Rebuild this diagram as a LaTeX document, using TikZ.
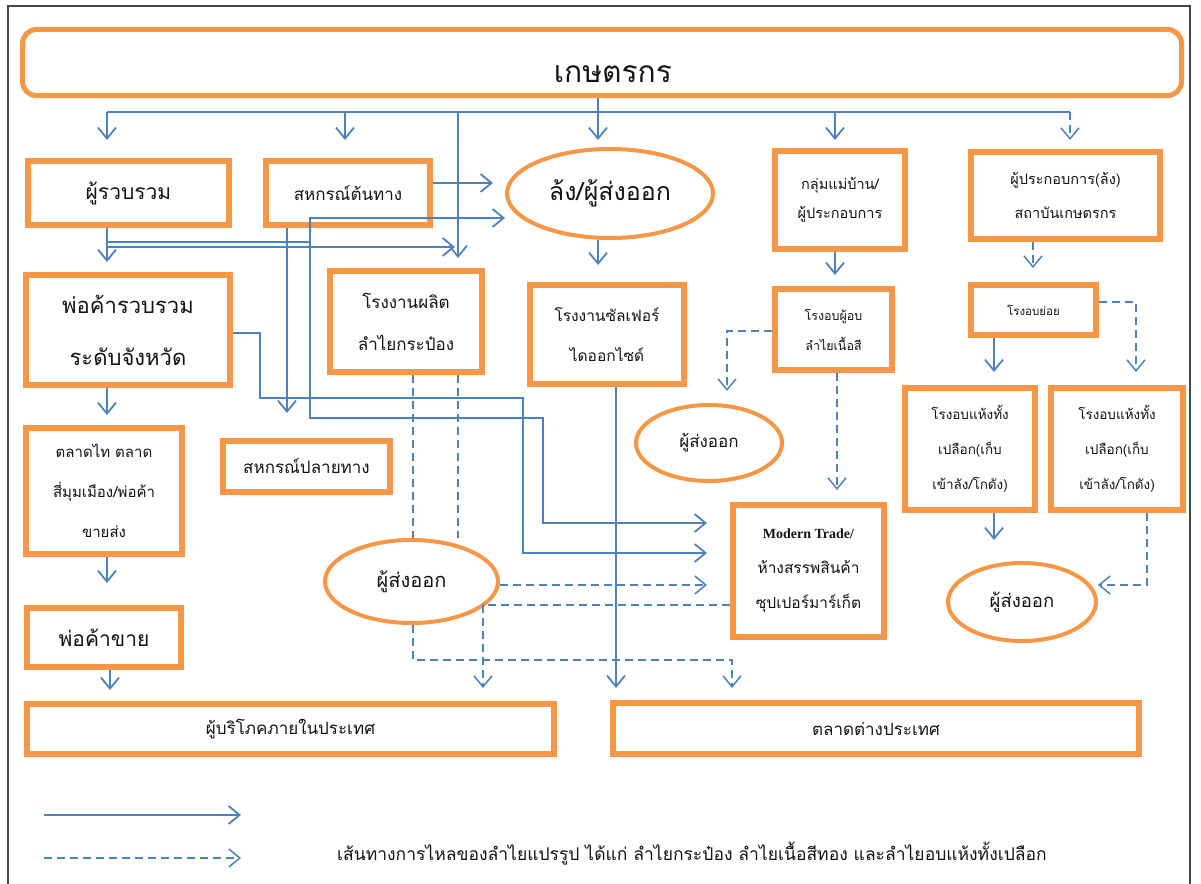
\documentclass[tikz,border=0pt]{standalone}
\usepackage{fontspec}
\setmainfont{Liberation Serif}
\newfontfamily\thai[Script=Thai]{Loma}
\newfontfamily\latinb{Liberation Serif}
\usetikzlibrary{arrows.meta,shapes.geometric,calc}
\definecolor{orng}{RGB}{247,150,70}
\definecolor{blu}{RGB}{79,129,189}
\definecolor{frm}{RGB}{70,70,70}
\definecolor{txt}{RGB}{20,20,20}
\newcommand\tsize[2]{\fontsize{#1}{#2}\selectfont}
\begin{document}
\begin{tikzpicture}[x=1pt,y=-1pt,
  obox/.style={draw=orng, line width=6pt, fill=white, rectangle, inner sep=0pt, align=center, text=txt},
  oell/.style={draw=orng, line width=4pt, fill=white, ellipse, inner sep=0pt, align=center, text=txt},
  ln/.style={draw=blu, line width=1.8pt},
  arr/.style={draw=blu, line width=1.8pt, -{Straight Barb[length=11pt,width=18pt]}},
  dsh/.style={draw=blu, line width=1.5pt, dash pattern=on 8pt off 5pt},
  darr/.style={dsh, -{Straight Barb[length=11pt,width=18pt]}}]
\fill[white] (0,0) rectangle (1201,883);
\useasboundingbox (0,0) rectangle (1201,883);
\clip (0,0) rectangle (1201,883);
\draw[frm, line width=1.2pt] (8,6) rectangle (1190,900);

% nodes
\node[obox, line width=5pt, rounded corners=14pt, minimum width=1159pt, minimum height=66pt] (top) at (602,62.5) {};
\node[text=txt, font=\thai\tsize{30}{36}] (toptxt) at (613,74) {เกษตรกร};

\node[obox, minimum width=201pt, minimum height=64pt, font=\thai\tsize{21}{25}] (A) at (128.5,193) {ผู้รวบรวม};
\node[obox, minimum width=164pt, minimum height=64pt, font=\thai\tsize{17}{20}] (B) at (348,193) {สหกรณ์ต้นทาง};
\node[oell, minimum width=206pt, minimum height=89pt, font=\thai\tsize{25}{30}] (C) at (610,193.5) {ล้ง/ผู้ส่งออก};
\node[obox, minimum width=130pt, minimum height=98pt, font=\thai\tsize{14.5}{29}] (D) at (840,200) {กลุ่มแม่บ้าน/\\ผู้ประกอบการ};
\node[obox, minimum width=189pt, minimum height=87pt, font=\thai\tsize{14.5}{34}] (E) at (1065.5,195.5) {ผู้ประกอบการ(ล้ง)\\สถาบันเกษตรกร};

\node[obox, minimum width=204pt, minimum height=110pt, font=\thai\tsize{22}{52}] (F) at (128,330) {พ่อค้ารวบรวม\\ระดับจังหวัด};
\node[obox, minimum width=152pt, minimum height=101pt, font=\thai\tsize{17}{42}] (G) at (406,321.5) {โรงงานผลิต\\ลำไยกระป๋อง};
\node[obox, minimum width=154pt, minimum height=99pt, font=\thai\tsize{15.5}{40}] (H) at (607,334.5) {โรงงานซัลเฟอร์\\ไดออกไซด์};
\node[obox, minimum width=117pt, minimum height=81pt, font=\thai\tsize{12.5}{30}] (I) at (833.5,329.5) {โรงอบผู้อบ\\ลำไยเนื้อสี};
\node[obox, minimum width=125pt, minimum height=50pt, font=\thai\tsize{11.5}{14}] (J) at (1033.5,310) {โรงอบย่อย};

\node[obox, minimum width=156pt, minimum height=126pt, font=\thai\tsize{15}{40}] (L) at (104,491) {ตลาดไท ตลาด\\สี่มุมเมือง/พ่อค้า\\ขายส่ง};
\node[obox, minimum width=167pt, minimum height=51pt, font=\thai\tsize{17}{20}] (M) at (306.5,466.5) {สหกรณ์ปลายทาง};
\node[oell, minimum width=146pt, minimum height=76pt, font=\thai\tsize{17}{20}] (N) at (709,443) {ผู้ส่งออก};
\node[obox, minimum width=130pt, minimum height=122pt, font=\thai\tsize{13.5}{35}] (O) at (970,449) {โรงอบแห้งทั้ง\\เปลือก(เก็บ\\เข้าลัง/โกดัง)};
\node[obox, minimum width=132pt, minimum height=122pt, font=\thai\tsize{13.5}{35}] (P) at (1117,449) {โรงอบแห้งทั้ง\\เปลือก(เก็บ\\เข้าลัง/โกดัง)};

\node[oell, minimum width=173pt, minimum height=83pt, font=\thai\tsize{20}{24}] (K) at (411.5,581.5) {ผู้ส่งออก};
\node[obox, minimum width=151pt, minimum height=132pt, font=\thai\tsize{15.5}{35}] (Q) at (808.5,571) {{\latinb\bfseries\tsize{14}{35}Modern Trade/}\\ห้างสรรพสินค้า\\ซุปเปอร์มาร์เก็ต};
\node[oell, minimum width=148pt, minimum height=78pt, font=\thai\tsize{18.5}{22}] (R) at (1022,602) {ผู้ส่งออก};
\node[obox, minimum width=154pt, minimum height=59pt, font=\thai\tsize{21}{25}] (S) at (104,637.5) {พ่อค้าขาย};

\node[obox, minimum width=527pt, minimum height=50pt, font=\thai\tsize{17}{20}] (T) at (290.5,729) {ผู้บริโภคภายในประเทศ};
\node[obox, minimum width=526pt, minimum height=51pt, font=\thai\tsize{17}{20}] (U) at (876,728.5) {ตลาดต่างประเทศ};

% bus from farmers
\coordinate (bA) at (107,112);
\coordinate (bB) at (345,112);
\coordinate (bC) at (598,112);
\coordinate (bG) at (458,112);
\coordinate (bD) at (835,112);
\coordinate (bE) at (1070,112);
\draw[ln] (top.south -| bC) -- (bC);
\draw[ln] (bA) -- (bE);
\draw[arr, shorten >=18pt] (bA) -- (A.north -| bA);
\draw[arr, shorten >=18pt] (bB) -- (B.north -| bB);
\draw[arr, shorten >=7pt] (bC) -- (C.north -| bC);
\draw[arr, shorten >=8pt] (bD) -- (D.north -| bD);
\draw[darr, shorten >=9pt] (bE) -- (E.north -| bE);
\draw[arr, shorten >=10pt] (bG) -- (G.north -| bG);

% from cooperatives / collectors
\draw[arr, shorten >=12pt] (B.east |- 0,183) -- (C.west |- 0,183);
\coordinate (j1) at (310,242);
\coordinate (gIn) at (455,247);
\draw[arr, shorten >=10pt] (A.south -| bA) -- (F.north -| bA);
\draw[arr] (A.south -| bA) |- (gIn);
\draw[arr] (A.south -| bA) |- (j1) |- (C.west |- 0,218);
\draw[arr, shorten >=23pt] (j1) |- (543,418) |- (Q.west |- 0,523);
\draw[arr, shorten >=25pt] (B.south -| 287,0) -- (M.north -| 287,0);
\draw[arr, shorten >=23pt] (F.east |- 0,333) -| (260,398) -- (523,398) |- (Q.west |- 0,553);
\draw[arr, shorten >=17pt] (C.south -| 598,0) -- (H.north -| 598,0);
\draw[arr, shorten >=11pt] (D.south -| 835,0) -- (I.north -| 835,0);
\draw[darr, shorten >=14pt] (E.south -| 1033,0) -- (J.north -| 1033,0);

% left column
\draw[arr, shorten >=10pt] (F.south -| bA) -- (L.north -| bA);
\draw[arr, shorten >=22pt] (L.south -| bA) -- (S.north -| bA);
\draw[arr, shorten >=11pt] (S.south -| 110,0) -- (T.north -| 110,0);

% factories
\draw[dsh] (G.south -| 413,0) -- (K.north -| 413,0);
\draw[dsh] (G.south -| 458,0) -- (K.north -| 458,0);
\draw[arr, shorten >=12pt] (H.south -| 616,0) -- (U.north -| 616,0);
\draw[darr, shorten >=12pt] (I.west |- 0,331) -| (N.north -| 727,0);
\draw[darr, shorten >=12pt] (I.south -| 837,0) -- (Q.north -| 837,0);
\draw[arr, shorten >=13pt] (J.south -| 994,0) -- (O.north -| 994,0);
\draw[darr, shorten >=13pt] (J.east |- 0,302) -| (P.north -| 1136,0);
\draw[arr, shorten >=21pt] (O.south -| 994,0) -- (R.north -| 994,0);
\draw[darr] (P.south -| 1147,0) |- (R.east |- 0,585);

% exporters
\draw[darr, shorten >=23pt] (K.east |- 0,585) -- (Q.west |- 0,585);
\draw[darr, shorten >=13pt] (Q.west |- 0,605) -| (T.north -| 483,0);
\draw[darr, shorten >=12pt] (K.south -| 413,0) |- (732,660) -- (U.north -| 732,0);

% legend
\coordinate (l1a) at (44,815);
\coordinate (l1b) at (241,815);
\coordinate (l2a) at (44,858);
\coordinate (l2b) at (241,858);
\draw[arr] (l1a) -- (l1b);
\draw[darr] (l2a) -- (l2b);
\node[anchor=west, text=txt, font=\thai\tsize{17.5}{21}, inner sep=0pt] (leg) at (337,853) {เส้นทางการไหลของลำไยแปรรูป ได้แก่ ลำไยกระป๋อง ลำไยเนื้อสีทอง และลำไยอบแห้งทั้งเปลือก};
\end{tikzpicture}
\end{document}
